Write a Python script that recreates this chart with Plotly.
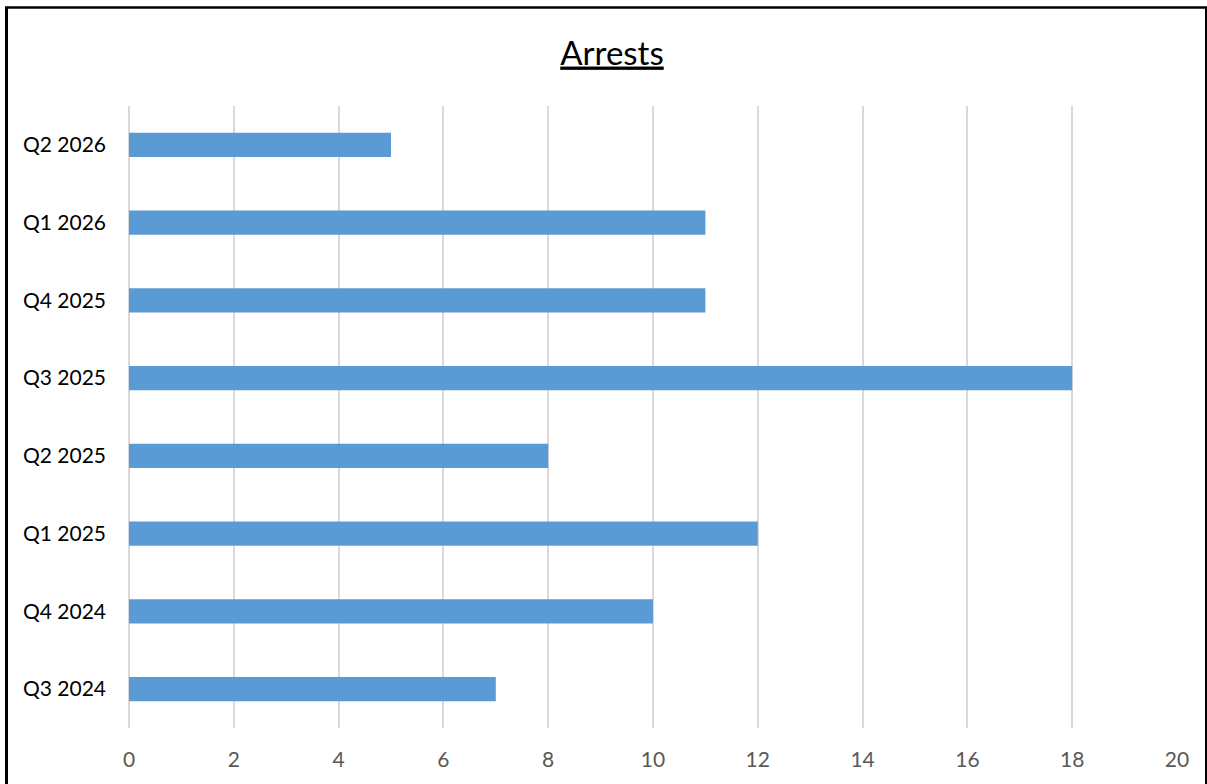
import plotly.graph_objects as go

# Quarterly arrest counts
quarters = ["Q3 2024", "Q4 2024", "Q1 2025", "Q2 2025",
            "Q3 2025", "Q4 2025", "Q1 2026", "Q2 2026"]
arrests = [7, 10, 12, 8, 18, 11, 11, 5]
x_ticks = [0, 2, 4, 6, 8, 10, 12, 14, 16, 18, 20]

W, H = 1207, 784
ML, MR, MT, MB = 129, 30, 106, 56
PW, PH = W - ML - MR, H - MT - MB


def px_x(p):
    return (p - ML) / PW


def px_y(p):
    return (H - MB - p) / PH


fig = go.Figure(
    go.Bar(
        x=arrests,
        y=quarters,
        orientation="h",
        marker=dict(color="#5B9BD5", line=dict(width=0)),
        hoverinfo="x+y",
    )
)

grid = "#D9D9D9"
fig.update_layout(
    width=W,
    height=H,
    margin=dict(l=ML, r=MR, t=MT, b=MB),
    paper_bgcolor="white",
    plot_bgcolor="white",
    bargap=0.69,
    showlegend=False,
    font=dict(family="Lato, Carlito, sans-serif"),
    title=dict(
        text="<u>Arrests</u>",
        font=dict(size=33, color="#000000"),
        x=612 / W,
        xref="container",
        xanchor="center",
        y=1 - 53 / H,
        yref="container",
        yanchor="middle",
    ),
    xaxis=dict(
        range=[0, 20],
        tickvals=x_ticks,
        showgrid=True,
        gridcolor=grid,
        gridwidth=2,
        zeroline=True,
        zerolinecolor=grid,
        zerolinewidth=2,
        showline=False,
        ticks="",
        tickfont=dict(size=21, color="#595959"),
        ticklabelstandoff=17,
    ),
    yaxis=dict(
        categoryorder="array",
        categoryarray=quarters,
        showgrid=False,
        zeroline=False,
        showline=False,
        ticks="",
        tickfont=dict(size=21, color="#000000"),
        ticklabelstandoff=22,
    ),
    shapes=[
        # chart frame
        dict(type="line", xref="paper", yref="paper",
             x0=px_x(6.5), x1=px_x(6.5), y0=px_y(7.5), y1=px_y(H + 2),
             line=dict(color="black", width=3)),
        dict(type="line", xref="paper", yref="paper",
             x0=px_x(5), x1=px_x(W + 2), y0=px_y(7.5), y1=px_y(7.5),
             line=dict(color="black", width=2.5)),
        dict(type="line", xref="paper", yref="paper",
             x0=px_x(W - 1), x1=px_x(W - 1), y0=px_y(7.5), y1=px_y(H + 2),
             line=dict(color="black", width=2)),
    ],
)

fig.write_html("out.html")
